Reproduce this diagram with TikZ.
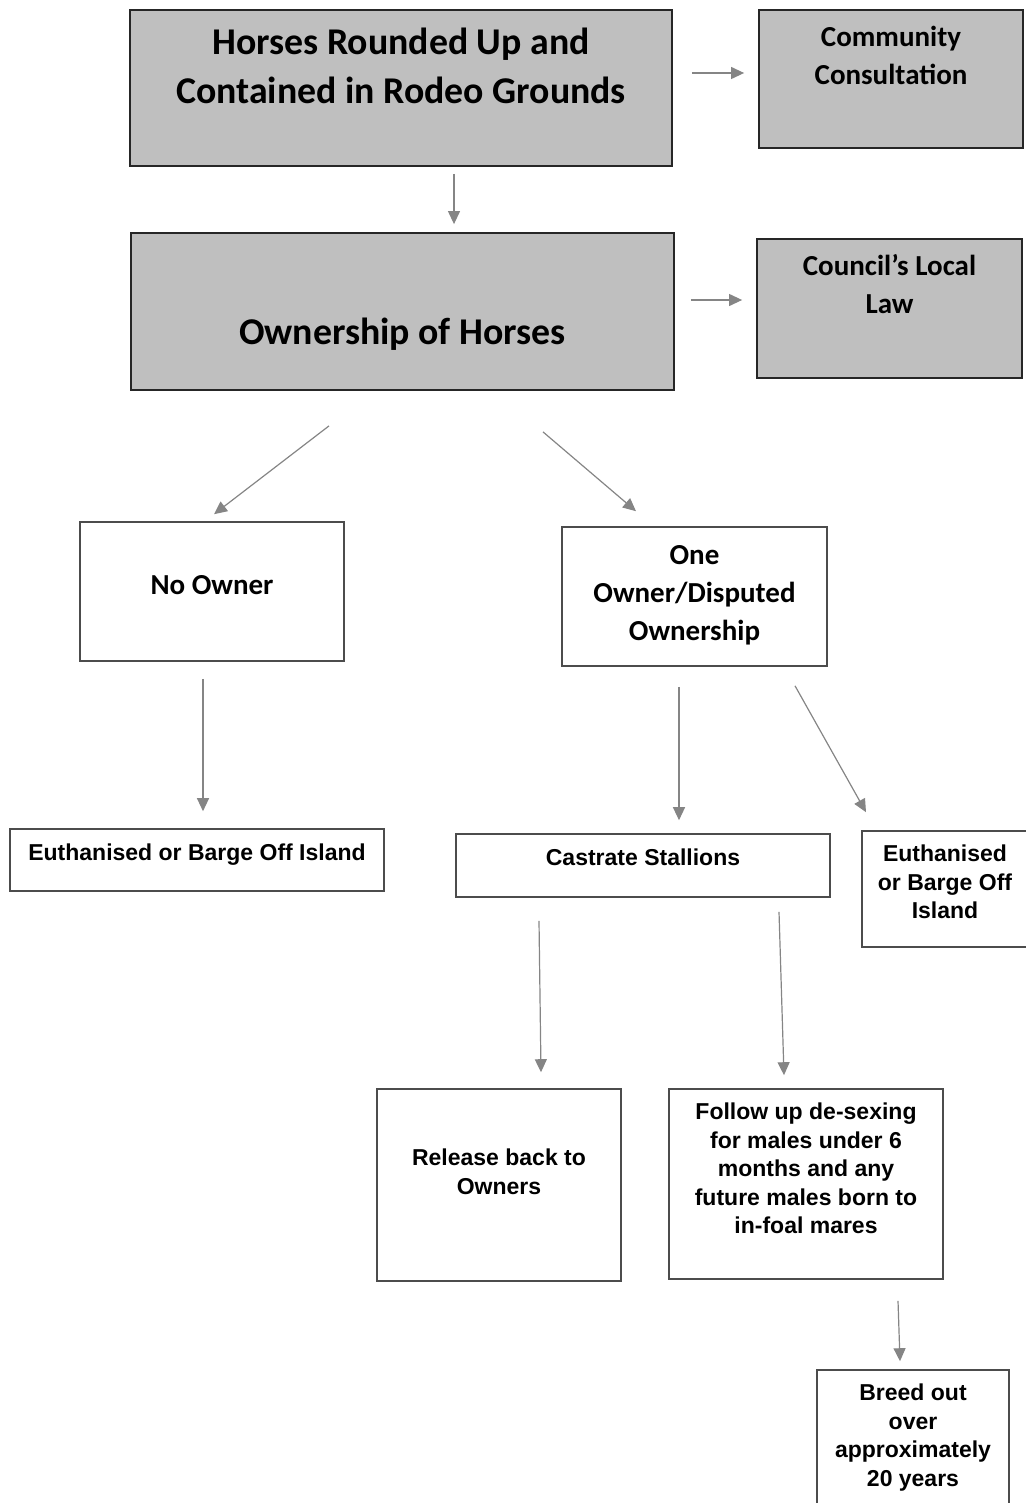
\documentclass[tikz,border=0pt]{standalone}
\usepackage{fontspec}
\setmainfont{Carlito}
\newfontfamily\arialfont{Liberation Sans}
\usepackage{tikz}
\usetikzlibrary{arrows.meta}

% width, height, top gap (all pt), text
\newcommand{\boxtext}[4]{\parbox[c][#2pt][t]{#1pt}{\centering\vspace*{#3pt}\strut #4}}

\begin{document}
\begin{tikzpicture}[
    x=0.5pt, y=-0.5pt,
    graybox/.style={draw=black!85, line width=0.9pt, fill=black!25, inner sep=0pt},
    whitebox/.style={draw=black!70, line width=0.8pt, fill=white, inner sep=0pt},
    bigtxt/.style={font=\fontsize{18.9}{24.5}\selectfont\bfseries},
    midtxt/.style={font=\fontsize{14.5}{19}\selectfont\bfseries},
    smalltxt/.style={font=\arialfont\fontsize{11.5}{14.25}\selectfont\bfseries},
    arr/.style={-{Triangle[length=6.5pt, width=6pt]}, draw=black!48, line width=0.6pt}
]
    \useasboundingbox (0,0) rectangle (1026,1503);
    \clip (0,0) rectangle (1026,1503);

    % top row
    \node[graybox, bigtxt] (round) at (401,88) {\boxtext{271}{78}{5.2}{Horses Rounded Up and\\ Contained in Rodeo Grounds}};
    \node[graybox, midtxt] (consult) at (891,79) {\boxtext{132}{69}{5.1}{Community\\ Consultation}};
    \node[graybox, bigtxt] (owner) at (402.5,311.5) {\boxtext{271.5}{78.5}{38.6}{Ownership of Horses}};
    \node[graybox, midtxt] (law) at (889.5,308.5) {\boxtext{132.5}{69.5}{5.1}{Council’s Local\\ Law}};

    % ownership split
    \node[whitebox, midtxt] (noown) at (212,591.5) {\boxtext{132}{69.5}{23}{No Owner}};
    \node[whitebox, midtxt] (oneown) at (694.5,596.5) {\boxtext{132.5}{69.5}{5.5}{One\\ Owner/Disputed\\ Ownership}};

    % outcomes
    \node[whitebox, smalltxt] (euth1) at (197,860) {\boxtext{187}{31}{5.8}{Euthanised or Barge Off Island}};
    \node[whitebox, smalltxt] (castr) at (643,865.5) {\boxtext{187}{31.5}{5.8}{Castrate Stallions}};
    \node[whitebox, smalltxt] (euth2) at (945,889) {\boxtext{83}{58}{5.3}{Euthanised\\ or Barge Off\\ Island}};
    \node[whitebox, smalltxt] (release) at (499,1185) {\boxtext{122}{96}{28.3}{Release back to\\ Owners}};
    \node[whitebox, smalltxt] (follow) at (806,1184) {\boxtext{137}{95}{5.3}{Follow up de-sexing\\ for males under 6\\ months and any\\ future males born to\\ in-foal mares}};
    \node[whitebox, smalltxt] (breed) at (913,1445) {\boxtext{96}{75}{5.3}{Breed out\\ over\\ approximately\\ 20 years}};

    % connectors (free-floating, as in the chart)
    \draw[arr] ([shift={(19,-15)}]round.east) -- ([shift={(-14,-6)}]consult.west);
    \draw[arr] ([shift={(53,7)}]round.south) -- ([shift={(51.5,-8)}]owner.north);
    \draw[arr] ([shift={(16,-11.5)}]owner.east) -- ([shift={(-14,-8.5)}]law.west);
    \draw[arr] ([shift={(-73.5,35)}]owner.south) -- ([shift={(2,-7)}]noown.north);
    \draw[arr] ([shift={(140.5,41)}]owner.south) -- ([shift={(-58.5,-15)}]oneown.north);
    \draw[arr] ([shift={(-9,17)}]noown.south) -- ([shift={(6,-17)}]euth1.north);
    \draw[arr] ([shift={(-15.5,20)}]oneown.south) -- ([shift={(36,-13)}]castr.north);
    \draw[arr] ([shift={(100.5,19)}]oneown.south) -- ([shift={(-79,-18)}]euth2.north);
    \draw[arr] ([shift={(-104,23)}]castr.south) -- ([shift={(42,-16)}]release.north);
    \draw[arr] ([shift={(136,14)}]castr.south) -- ([shift={(-22,-13)}]follow.north);
    \draw[arr] ([shift={(92,21)}]follow.south) -- ([shift={(-13,-8)}]breed.north);
\end{tikzpicture}
\end{document}
